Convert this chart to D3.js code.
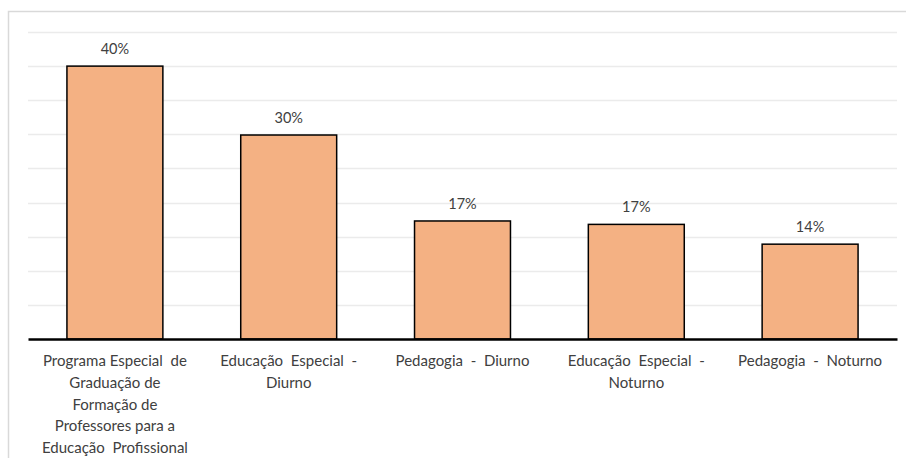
<!DOCTYPE html>
<html>
<head>
<meta charset="utf-8">
<script src="https://cdn.jsdelivr.net/npm/d3@7"></script>
<style>
  body { margin: 0; background: #fff; }
  svg text { font-family: Lato, "Open Sans", sans-serif; fill: #404040; }
</style>
</head>
<body>
<div id="chart"></div>
<script>
// categories and their wrapped tick labels
const categories = [
	"Programa Especial de Graduação de Formação de Professores para a Educação Profissional",
	"Educação Especial - Diurno",
	"Pedagogia - Diurno",
	"Educação Especial - Noturno",
	"Pedagogia - Noturno"
];
const tickLines = [
	["Programa Especial  de", "Graduação de", "Formação de", "Professores para a", "Educação  Profissional"],
	["Educação  Especial  -", "Diurno"],
	["Pedagogia  -  Diurno"],
	["Educação  Especial  -", "Noturno"],
	["Pedagogia  -  Noturno"]
];
// share of respondents (fraction)
const values = [0.400, 0.299, 0.173, 0.168, 0.139];
const gridTicks = [0, 0.05, 0.10, 0.15, 0.20, 0.25, 0.30, 0.35, 0.40, 0.45];

const W = 906, H = 458;
const margin = {top: 32, right: 9, bottom: 119, left: 28};
const width = W - margin.left - margin.right;
const height = H - margin.top - margin.bottom;

const svg = d3.select("#chart").append("svg")
	.attr("width", W)
	.attr("height", H);

// outer chart frame (only left and top visible in the crop)
svg.append("rect")
	.attr("x", 8.5).attr("y", 11.5)
	.attr("width", W + 10).attr("height", H + 10)
	.attr("fill", "none")
	.attr("stroke", "#d9d9d9")
	.attr("stroke-width", 1.5);

const g = svg.append("g")
	.attr("transform", `translate(${margin.left}, ${margin.top})`);

const x = d3.scaleBand()
	.domain(categories)
	.range([0, width])
	.paddingInner(0.448)
	.paddingOuter(0.224);

const y = d3.scaleLinear()
	.domain([0, 0.45])
	.range([height, 0]);

// horizontal gridlines
g.append("g")
	.selectAll("line")
	.data(gridTicks.slice(1))
	.enter()
	.append("line")
	.attr("x1", 0).attr("x2", width)
	.attr("y1", d => Math.round(y(d)) + 0.5)
	.attr("y2", d => Math.round(y(d)) + 0.5)
	.attr("stroke", "#ebebeb")
	.attr("stroke-width", 1.5);

// bars
g.selectAll("rect.bar")
	.data(values)
	.enter()
	.append("rect")
	.attr("class", "bar")
	.attr("x", (d, i) => x(categories[i]))
	.attr("y", d => y(d))
	.attr("width", x.bandwidth())
	.attr("height", d => height - y(d))
	.attr("fill", "#f4b183")
	.attr("stroke", "#000")
	.attr("stroke-width", 1.5);

// value labels
const fmt = d3.format(".0%");
g.selectAll("text.val")
	.data(values)
	.enter()
	.append("text")
	.attr("class", "val")
	.attr("x", (d, i) => x(categories[i]) + x.bandwidth() / 2)
	.attr("y", d => y(d) - 12)
	.attr("text-anchor", "middle")
	.style("font-size", "14.5px")
	.text(d => fmt(d));

// x axis line
const xAxis = d3.axisBottom(x).tickSize(0).tickFormat("");
const xAxisG = g.append("g")
	.attr("transform", `translate(0, ${height})`)
	.call(xAxis);
xAxisG.select(".domain")
	.attr("stroke", "#000")
	.attr("stroke-width", 2.5);

// wrapped tick labels
xAxisG.selectAll(".tick").each(function (d, i) {
	const t = d3.select(this).append("text")
		.attr("text-anchor", "middle")
		.attr("y", 27)
		.style("font-size", "15px")
		.style("white-space", "pre");
	tickLines[i].forEach((line, k) => {
		t.append("tspan")
			.attr("x", 0)
			.attr("dy", k === 0 ? 0 : 21.8)
			.text(line);
	});
});
</script>
</body>
</html>
